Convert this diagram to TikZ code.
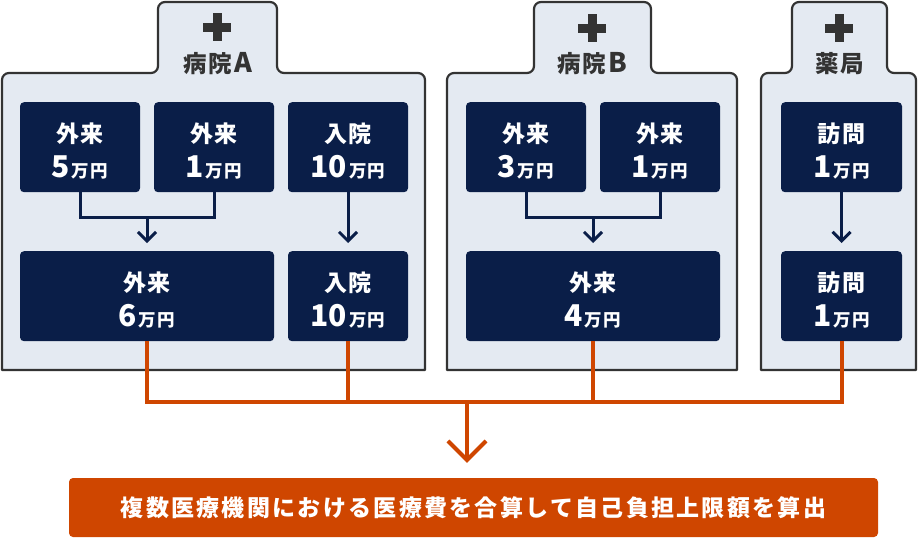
\documentclass[tikz,border=0pt]{standalone}
\usepackage{fontspec}
\newfontfamily\jp{Noto Sans CJK JP}[LetterSpace=8]
\newfontfamily\jpnum{Noto Sans CJK JP}
\newfontfamily\jpwide{Noto Sans CJK JP}[LetterSpace=10]
\usetikzlibrary{arrows.meta}
\definecolor{navy}{HTML}{0A1E48}
\definecolor{pale}{HTML}{E4EAF2}
\definecolor{edgegray}{HTML}{333333}
\definecolor{orng}{HTML}{CF4600}
\newcommand\amt[1]{{\jpnum\bfseries\fontsize{30}{30}\selectfont #1}\hspace{2pt}{\fontsize{17.5}{17.5}\selectfont 万円}}
\tikzset{
  bldg/.style={draw=edgegray, fill=pale, line width=2.2pt, line join=round},
  costbox/.style={fill=navy, rounded corners=4pt, inner sep=0pt, minimum height=90pt},
  costtxt/.style={text=white, font=\jp\bfseries\fontsize{23}{23}\selectfont, inner sep=0pt},
  hdr/.style={text=edgegray, font=\jp\bfseries\fontsize{23.5}{23.5}\selectfont, inner sep=0pt, anchor=base},
  navyline/.style={draw=navy, line width=3pt, line join=miter},
  navyarrow/.style={navyline, -{Straight Barb[length=9pt,width=18pt]}, shorten >=8pt},
  orline/.style={draw=orng, line width=4pt, line join=miter},
  crossarm/.style={fill=edgegray, draw=none},
  bar/.style={fill=orng, rounded corners=4pt, text=white, minimum width=809pt, minimum height=59pt, inner sep=0pt,
    font=\jpwide\bfseries\fontsize{23}{23}\selectfont},
}
\newcommand\costnode[6]{%
  \node[costbox, minimum width=#4pt, anchor=north] (#1) at (#2,#3) {};
  \node[costtxt, anchor=base] (#1-l1) at ([yshift=-40pt]#1.north) {#5};
  \node[costtxt, anchor=base] (#1-l2) at ([yshift=-75pt]#1.north) {\amt{#6}};
}
\newcommand\crossmark[3]{%
  \fill[crossarm] (#2-4.5,#3-14) rectangle (#2+4.5,#3+14);
  \fill[crossarm] (#2-14,#3-4.5) rectangle (#2+14,#3+4.5);
  \coordinate (#1) at (#2,#3);
}
\begin{document}
\begin{tikzpicture}[x=1pt,y=-1pt]
\useasboundingbox (0,0) rectangle (920,538);
% buildings
\draw[bldg] (2,370) [rounded corners=7pt] -- (2,73) -- (158,73) -- (158,2) -- (277,2) -- (277,73) -- (425,73) [sharp corners] -- (425,370) -- cycle;
\draw[bldg] (447,370) [rounded corners=7pt] -- (447,73) -- (534,73) -- (534,2) -- (651,2) -- (651,73) -- (737,73) [sharp corners] -- (737,370) -- cycle;
\draw[bldg] (761,370) [rounded corners=7pt] -- (761,73) -- (792,73) -- (792,2) -- (887,2) -- (887,73) -- (916,73) [sharp corners] -- (916,370) -- cycle;
% crosses and headers
\crossmark{cA}{217}{27}
\crossmark{cB}{592}{28}
\crossmark{cP}{839}{28}
\node[hdr] (hA) at (217.5,72) {病院\hspace{2pt}{\fontsize{27}{27}\selectfont A}};
\node[hdr] (hB) at (592,72) {病院\hspace{2pt}{\fontsize{27}{27}\selectfont B}};
\node[hdr] (hP) at (840,72) {薬局};
% hospital A
\costnode{a1}{80}{102}{120}{外来}{5}
\costnode{a2}{214}{102}{120}{外来}{1}
\costnode{a3}{348}{102}{120}{入院}{10}
\costnode{a4}{147}{251}{254}{外来}{6}
\costnode{a5}{348}{251}{120}{入院}{10}
% hospital B
\costnode{b1}{526}{102}{120}{外来}{3}
\costnode{b2}{660}{102}{120}{外来}{1}
\costnode{b3}{593}{251}{254}{外来}{4}
% pharmacy
\costnode{p1}{841.5}{102}{121}{訪問}{1}
\costnode{p2}{841.5}{251}{121}{訪問}{1}
% navy connectors
\coordinate (jA) at (147,217);
\coordinate (jB) at (593,217);
\draw[navyline] (a1.south) |- (jA) -| (a2.south);
\draw[navyarrow] (jA) -- (a4.north);
\draw[navyarrow] (a3.south) -- (a5.north);
\draw[navyline] (b1.south) |- (jB) -| (b2.south);
\draw[navyarrow] (jB) -- (b3.north);
\draw[navyarrow] (p1.south) -- (p2.north);
% bottom bar
\node[bar] (bar) at (473.5,507.5) {複数医療機関における医療費を合算して自己負担上限額を算出};
% orange connectors
\coordinate (hub) at (467,402);
\draw[orline] (a4.south) |- (hub);
\draw[orline] (a5.south) |- (hub);
\draw[orline] (b3.south) |- (hub);
\draw[orline] (p2.south) |- (hub);
\draw[orline, -{Straight Barb[length=19pt,width=38pt]}, shorten >=15pt] (hub) -- (hub |- bar.north);
\end{tikzpicture}
\end{document}
